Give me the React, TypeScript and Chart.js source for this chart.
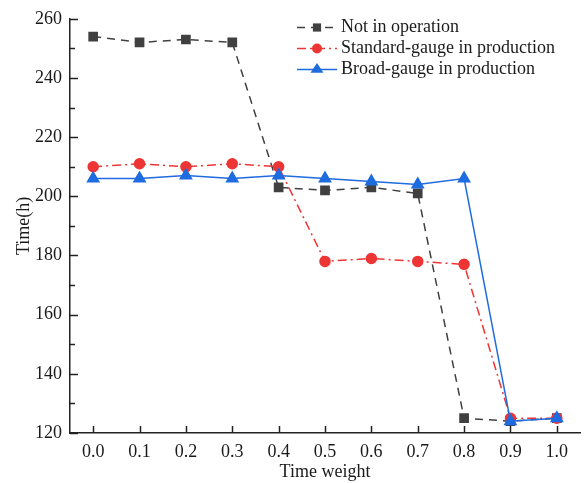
import React, { useEffect, useRef } from "react";
import { Chart, registerables } from "chart.js";

Chart.register(...registerables);

const categories = ["0.0", "0.1", "0.2", "0.3", "0.4", "0.5", "0.6", "0.7", "0.8", "0.9", "1.0"];
const notInOperation = [254, 252, 253, 252, 203, 202, 203, 201, 125, 124, 125];
const standardGauge = [210, 211, 210, 211, 210, 178, 179, 178, 177, 125, 125];
const broadGauge = [206, 206, 207, 206, 207, 206, 205, 204, 206, 124, 125];
const seriesNames = ["Not in operation", "Standard-gauge in production", "Broad-gauge in production"];
const yMin = 120;
const yMax = 260;

const FONT = "'Liberation Serif', 'Times New Roman', serif";
const AXIS_COLOR = "#222222";
const FS = 18;

const tickPlugin = {
  id: "inwardTicks",
  afterDraw(chart: any) {
    const ctx = chart.ctx;
    const x = chart.scales.x;
    const y = chart.scales.y;
    const area = chart.chartArea;
    ctx.save();
    ctx.strokeStyle = AXIS_COLOR;
    ctx.lineWidth = 1.5;
    for (let v = yMin; v <= yMax; v += 10) {
      const py = Math.round(y.getPixelForValue(v)) + 0.5;
      const len = v % 20 === 0 ? 8 : 5;
      ctx.beginPath();
      ctx.moveTo(area.left, py);
      ctx.lineTo(area.left + len, py);
      ctx.stroke();
    }
    for (let i = 0; i < categories.length; i++) {
      const px = Math.round(x.getPixelForTick(i)) + 0.5;
      ctx.beginPath();
      ctx.moveTo(px, area.bottom);
      ctx.lineTo(px, area.bottom - 7);
      ctx.stroke();
    }
    ctx.restore();
  },
};

const legendPlugin = {
  id: "innerLegend",
  afterDraw(chart: any) {
    const ctx = chart.ctx;
    ctx.save();
    const x0 = 297;
    const lineLen = 40;
    const rows = [27.5, 48.5, 69.5];
    chart.data.datasets.forEach((ds: any, i: number) => {
      const yy = rows[i];
      ctx.strokeStyle = ds.borderColor;
      ctx.lineWidth = ds.borderWidth;
      ctx.setLineDash(ds.borderDash || []);
      ctx.beginPath();
      ctx.moveTo(x0, yy);
      ctx.lineTo(x0 + lineLen, yy);
      ctx.stroke();
      ctx.setLineDash([]);
      const cx = x0 + lineLen / 2;
      ctx.fillStyle = ds.pointBackgroundColor;
      const r = ds.pointRadius;
      if (ds.pointStyle === "rect") {
        const s = r * 1.414;
        ctx.fillRect(cx - s / 2, yy - s / 2, s, s);
      } else if (ds.pointStyle === "circle") {
        ctx.beginPath();
        ctx.arc(cx, yy, r, 0, Math.PI * 2);
        ctx.fill();
      } else {
        ctx.beginPath();
        ctx.moveTo(cx, yy - r);
        ctx.lineTo(cx + r * 0.866 * 1.15, yy + r * 0.5);
        ctx.lineTo(cx - r * 0.866 * 1.15, yy + r * 0.5);
        ctx.closePath();
        ctx.fill();
      }
      ctx.fillStyle = "#1a1a1a";
      ctx.font = `${FS}px ${FONT}`;
      ctx.textBaseline = "middle";
      ctx.textAlign = "left";
      ctx.fillText(seriesNames[i], x0 + lineLen + 4, yy);
    });
    ctx.restore();
  },
};

export default function App() {
  const ref = useRef<HTMLCanvasElement>(null);
  useEffect(() => {
    document.body.style.margin = "0";
    const canvas = ref.current!;
    const chart = new Chart(canvas, {
      type: "line",
      data: {
        labels: categories,
        datasets: [
          {
            label: seriesNames[0],
            data: notInOperation,
            borderColor: "#404040",
            backgroundColor: "#404040",
            pointBackgroundColor: "#404040",
            pointBorderColor: "#404040",
            pointStyle: "rect",
            pointRadius: 5.8,
            borderWidth: 1.5,
            borderDash: [8, 6],
            order: 3,
          },
          {
            label: seriesNames[1],
            data: standardGauge,
            borderColor: "#ee3535",
            backgroundColor: "#ee3535",
            pointBackgroundColor: "#ee3535",
            pointBorderColor: "#ee3535",
            pointStyle: "circle",
            pointRadius: 5,
            borderWidth: 1.5,
            borderDash: [9, 4, 2, 4],
            order: 2,
          },
          {
            label: seriesNames[2],
            data: broadGauge,
            borderColor: "#1f6be0",
            backgroundColor: "#1f6be0",
            pointBackgroundColor: "#1f6be0",
            pointBorderColor: "#1f6be0",
            pointStyle: "triangle",
            pointRadius: 6.5,
            borderWidth: 1.5,
            order: 1,
          },
        ],
      } as any,
      options: {
        responsive: false,
        animation: false,
        layout: { padding: { top: 17, right: 0, left: 0, bottom: 0 } },
        plugins: {
          legend: { display: false },
          tooltip: { enabled: false },
        },
        scales: {
          x: {
            type: "category",
            offset: true,
            grid: { display: false, drawTicks: false },
            border: { display: true, color: AXIS_COLOR, width: 1.5 },
            ticks: {
              padding: 8,
              color: "#1a1a1a",
              font: { family: FONT, size: FS },
              maxRotation: 0,
            },
            title: {
              display: true,
              text: "Time weight",
              color: "#1a1a1a",
              font: { family: FONT, size: FS },
              padding: { top: 0, bottom: 0 },
            },
            afterFit(scale: any) {
              scale.height = 50;
            },
          },
          y: {
            type: "linear",
            min: yMin,
            max: yMax,
            grid: { display: false, drawTicks: false },
            border: { display: true, color: AXIS_COLOR, width: 1.5 },
            ticks: {
              stepSize: 20,
              padding: 8,
              color: "#1a1a1a",
              font: { family: FONT, size: FS },
            },
            title: {
              display: true,
              text: "Time(h)",
              color: "#1a1a1a",
              font: { family: FONT, size: FS },
              padding: { top: 13, bottom: 0 },
            },
            afterFit(scale: any) {
              scale.width = 70;
            },
          },
        },
      } as any,
      plugins: [tickPlugin, legendPlugin],
    });
    return () => chart.destroy();
  }, []);
  return (
    <div style={{ width: 588, height: 483 }}>
      <canvas ref={ref} width={588} height={483} style={{ display: "block" }} />
    </div>
  );
}
